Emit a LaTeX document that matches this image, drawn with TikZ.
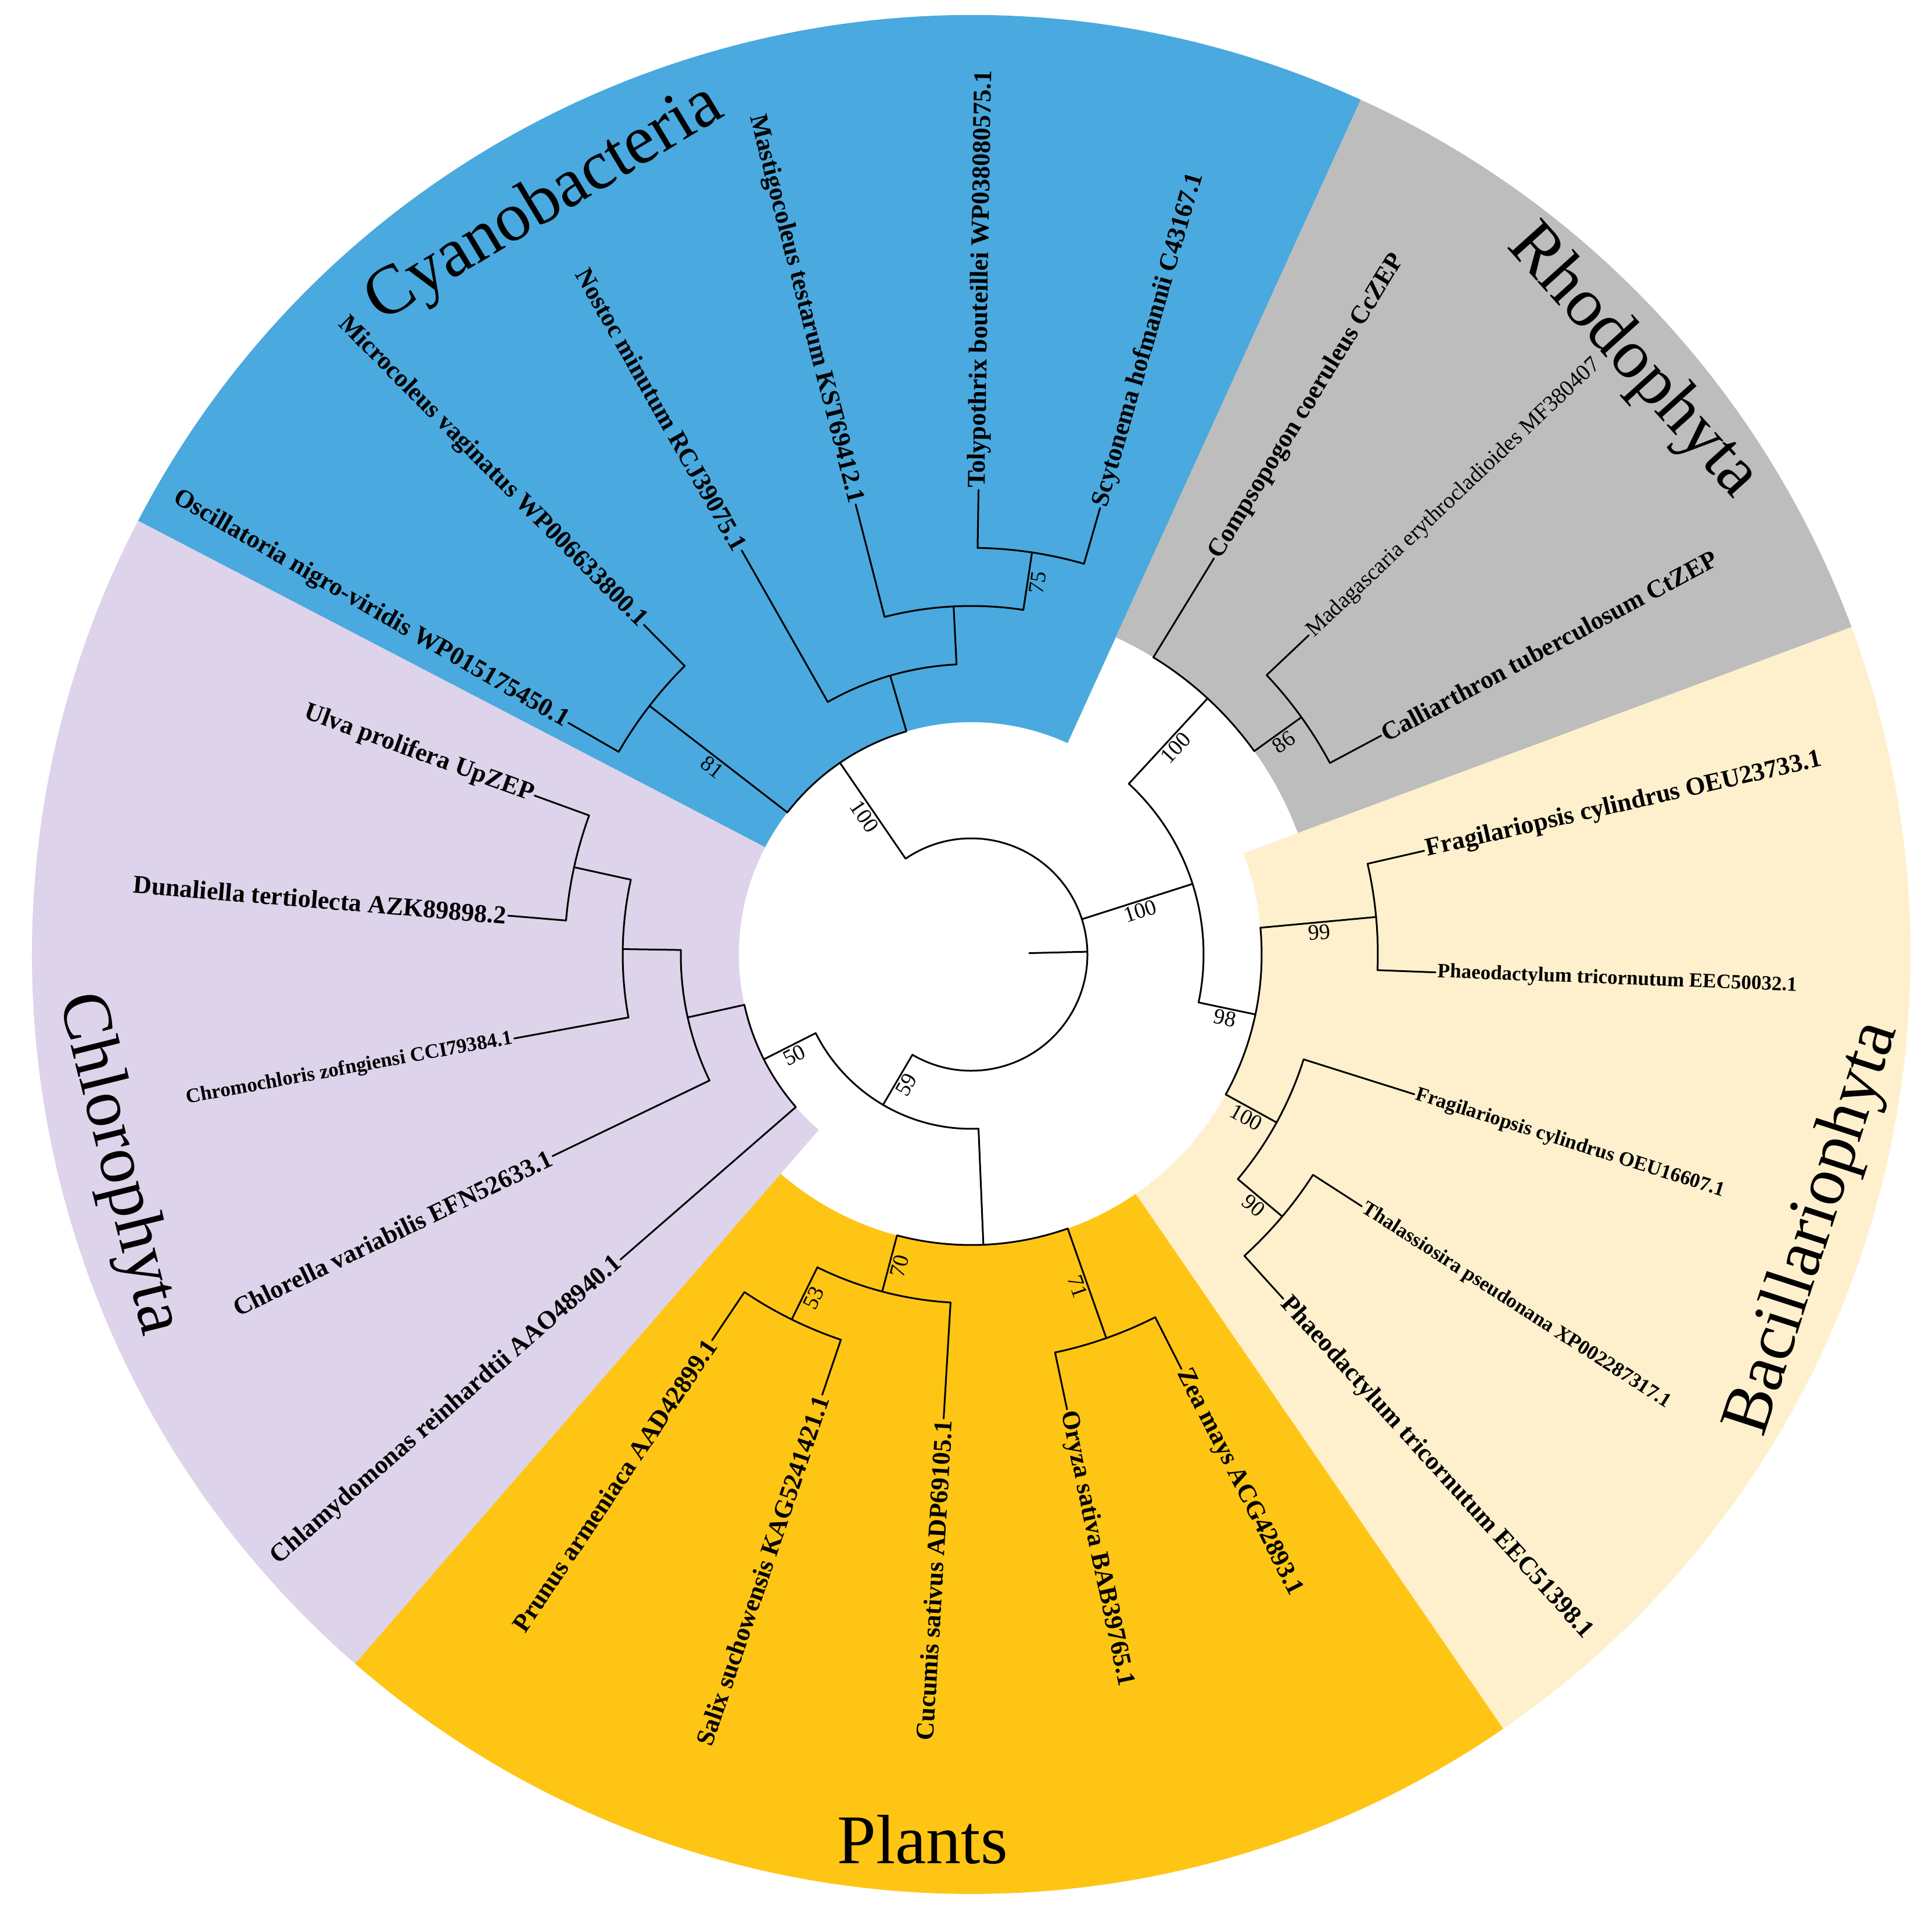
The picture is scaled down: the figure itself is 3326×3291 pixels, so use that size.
\documentclass[tikz,border=0pt]{standalone}
\usepackage{fontspec}
\setmainfont{Liberation Serif}
\definecolor{cyanc}{HTML}{4AA9DE}
\definecolor{grayc}{HTML}{BDBDBD}
\definecolor{yelc}{HTML}{FFF0CD}
\definecolor{goldc}{HTML}{FEC514}
\definecolor{lavc}{HTML}{DDD3EA}
\newcommand\wedgefill[4]{\fill[#1] (#2:#4) arc[start angle=#2,end angle=#3,radius=#4] -- (#3:1617) arc[start angle=#3,end angle=#2,radius=1617] -- cycle;}
\newcommand\radb[3]{\draw[tl] (#1:#2) -- (#1:#3);}
\newcommand\arcb[3]{\draw[tl] (#2:#1) arc[start angle=#2,end angle=#3,radius=#1];}
\newcommand\leafR[4]{\node[#3,rotate=#2,anchor=west] (#1) at (#2:800) {#4};}
\newcommand\leafL[4]{\node[#3,rotate=#2+180,anchor=east] (#1) at (#2:800) {#4};}
\newcommand\bsv[4]{\node[bsl,rotate=#3] at (#1:#2) {#4};}
\begin{document}
\begin{tikzpicture}[x=0.5pt,y=0.5pt,
  tl/.style={line width=1.5pt,line cap=round,line join=round},
  big/.style={font=\bfseries\fontsize{22}{24}\selectfont,inner sep=1.5pt},
  small/.style={font=\bfseries\fontsize{17.5}{20}\selectfont,inner sep=1.5pt},
  smallr/.style={font=\fontsize{19.5}{22}\selectfont,inner sep=1.5pt},
  bsl/.style={font=\fontsize{19}{21}\selectfont,anchor=north,inner sep=2pt},
  clade/.style={font=\fontsize{60}{66}\selectfont,inner sep=0pt}]
\useasboundingbox[fill=white] (-1672,-1648) rectangle (1654,1643);
% wedges
\wedgefill{cyanc}{65.5}{152.5}{400}
\wedgefill{grayc}{20.4}{65.5}{600}
\wedgefill{yelc}{-55.5}{20.4}{500}
\wedgefill{goldc}{-131}{-55.5}{500}
\wedgefill{lavc}{152.5}{229}{400}
% root
\radb{1.4}{100}{200}
\arcb{200}{-120.4}{124.4}
% Cyanobacteria
\radb{124.4}{200}{400}\bsv{124.4}{300}{-55.6}{100}
\arcb{400}{106.2}{142.3}
\radb{142.3}{400}{700}\bsv{142.3}{550}{-37.7}{81}
\arcb{700}{134.8}{150.1}
\radb{106.2}{400}{500}
\arcb{500}{92.9}{119.6}
\radb{92.9}{500}{600}
\arcb{600}{81.4}{104.4}
\radb{81.4}{600}{700}\bsv{81.4}{650}{81.4}{75}
\arcb{700}{73.9}{89.1}
% right clade
\radb{17.7}{200}{400}\bsv{17.7}{300}{17.7}{100}
\arcb{400}{-11.9}{47.3}
\radb{47.3}{400}{600}\bsv{47.3}{500}{47.3}{100}
\arcb{600}{35.7}{58.5}
\radb{35.7}{600}{700}\bsv{35.7}{650}{35.7}{86}
\arcb{700}{28.1}{43.4}
\radb{-11.9}{400}{500}\bsv{-11.9}{450}{-11.9}{98}
\arcb{500}{-28.8}{5.3}
\radb{5.3}{500}{700}\bsv{5.3}{600}{5.3}{99}
\arcb{700}{-2.2}{12.9}
\radb{-28.8}{500}{600}\bsv{-28.8}{550}{-28.8}{100}
\arcb{600}{-40.1}{-17.5}
\radb{-40.1}{600}{700}\bsv{-40.1}{650}{-40.1}{90}
\arcb{700}{-47.8}{-32.8}
% bottom clade
\radb{-120.4}{200}{300}\bsv{-120.4}{250}{59.6}{59}
\arcb{300}{-153.2}{-87.6}
\radb{206.8}{300}{400}\bsv{206.8}{350}{26.8}{50}
\arcb{400}{192.5}{221}
\radb{192.5}{400}{500}
\arcb{500}{179.1}{205.7}
\radb{179.1}{500}{600}
\arcb{600}{167.6}{190.4}
\radb{167.6}{600}{700}
\arcb{700}{160}{175.2}
% plants
\radb{-87.6}{300}{500}
\arcb{500}{-104.8}{-70.6}
\radb{-104.8}{500}{600}\bsv{-104.8}{550}{75.2}{70}
\arcb{600}{-116.2}{-93.4}
\radb{-116.2}{600}{700}\bsv{-116.2}{650}{63.8}{53}
\arcb{700}{-123.9}{-108.7}
\radb{-70.6}{500}{700}\bsv{-70.6}{600}{-70.6}{71}
\arcb{700}{-78.1}{-63.1}
% leaf branches
\radb{12.9}{700}{800}\radb{-2.2}{700}{800}\radb{-17.5}{600}{800}
\radb{-32.8}{700}{800}\radb{-47.8}{700}{800}\radb{-63.1}{700}{800}
\radb{-78.1}{700}{800}\radb{-93.4}{600}{800}\radb{-108.7}{700}{800}
\radb{-123.9}{700}{800}\radb{221}{400}{800}\radb{205.7}{500}{800}
\radb{190.4}{600}{800}\radb{175.2}{700}{800}\radb{160}{700}{800}
\radb{150.1}{700}{800}\radb{134.8}{700}{800}\radb{119.6}{500}{800}
\radb{104.4}{600}{800}\radb{89.1}{700}{800}\radb{73.9}{700}{800}
\radb{58.5}{600}{800}\radb{43.4}{700}{800}\radb{28.1}{700}{800}
% leaf labels
\leafR{l1}{12.9}{big}{Fragilariopsis cylindrus OEU23733.1}
\leafR{l2}{-2.2}{small}{Phaeodactylum tricornutum EEC50032.1}
\leafR{l3}{-17.5}{small}{Fragilariopsis cylindrus OEU16607.1}
\leafR{l4}{-32.8}{small}{Thalassiosira pseudonana XP002287317.1}
\leafR{l5}{-47.8}{big}{Phaeodactylum tricornutum EEC51398.1}
\leafR{l6}{-63.1}{big}{Zea mays ACG42893.1}
\leafR{l7}{-78.1}{big}{Oryza sativa BAB39765.1}
\leafL{l8}{-93.4}{big}{Cucumis sativus ADP69105.1}
\leafL{l9}{-108.7}{big}{Salix suchowensis KAG5241421.1}
\leafL{l10}{-123.9}{big}{Prunus armeniaca AAD42899.1}
\leafL{l11}{221}{big}{Chlamydomonas reinhardtii AAO48940.1}
\leafL{l12}{205.7}{big}{Chlorella variabilis EFN52633.1}
\leafL{l13}{190.4}{small}{Chromochloris zofngiensi CCI79384.1}
\leafL{l14}{175.2}{big}{Dunaliella tertiolecta AZK89898.2}
\leafL{l15}{160}{big}{Ulva prolifera UpZEP}
\leafL{l16}{150.1}{big}{Oscillatoria nigro-viridis WP015175450.1}
\leafL{l17}{134.8}{big}{Microcoleus vaginatus WP006633800.1}
\leafL{l18}{119.6}{big}{Nostoc minutum RCJ39075.1}
\leafL{l19}{104.4}{big}{Mastigocoleus testarum KST69412.1}
\leafR{l20}{89.1}{big}{Tolypothrix bouteillei WP038080575.1}
\leafR{l21}{73.9}{big}{Scytonema hofmannii C43167.1}
\leafR{l22}{58.5}{big}{Compsopogon coeruleus CcZEP}
\leafR{l23}{43.4}{smallr}{Madagascaria erythrocladioides MF380407}
\leafR{l24}{28.1}{big}{Calliarthron tuberculosum CtZEP}
% clade names
\node[clade,rotate=31] (cy) at (-734,1291) {Cyanobacteria};
\node[clade,rotate=-48] (rh) at (1138,1020) {Rhodophyta};
\node[clade,rotate=72] (ba) at (1451,-472) {Bacillariophyta};
\node[clade] (pl) at (-84,-1523) {Plants};
\node[clade,rotate=-76] (ch) at (-1469,-361) {Chlorophyta};
\end{tikzpicture}
\end{document}
